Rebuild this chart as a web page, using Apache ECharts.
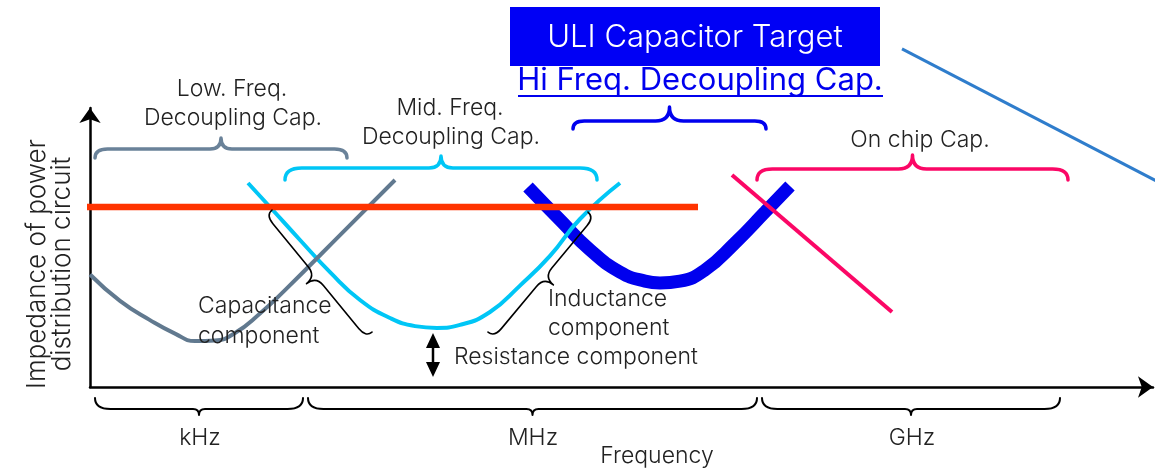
<!DOCTYPE html>
<html>
<head>
<meta charset="utf-8">
<script src="https://cdn.jsdelivr.net/npm/echarts@6/dist/echarts.min.js"></script>
<style>
  html, body { margin: 0; padding: 0; background: #fff; }
  #chart { width: 1162px; height: 474px; }
</style>
</head>
<body>
<div id="chart"></div>
<script>
// x: frequency (log scale, arbitrary units), y: impedance (arbitrary units)

// Impedance curves of each decoupling stage
const lowFreqCap = [[0, 37.5], [3, 28.7], [6, 22.3], [8.5, 17.8], [10.5, 15.3], [12.5, 15.5], [14.5, 18], [17, 24.5], [19.5, 32.3], [25.5, 52.3], [30.5, 69]];
const midFreqCap = [[15.8, 68], [18, 60], [21, 49], [24, 38.3], [27, 29], [30, 23], [32.5, 20.3], [34.7, 19.7], [37, 20.7], [40, 25], [43, 33.8], [46, 43.7], [49, 56], [53, 68]];
const hiFreqCap = [[43.8, 66.7], [47, 55.7], [50, 45.7], [53, 38.3], [55.5, 35.3], [57, 34.7], [59, 35.3], [61.5, 39], [64.5, 48], [67.5, 58.3], [70, 67]];
const onChipCap = [[64.2, 70.7], [80.2, 25]];
const targetImpedance = [[-0.3, 60], [60.8, 60]];
const uliTarget = [[81.2, 112.7], [107.2, 67.7]];

// Resistance component: from the bottom of the mid-frequency curve towards the axis
const resistanceSpan = [[34.3, 15.5], [34.3, 5.8]];

// Braces marking frequency ranges [x1, y1, x2, y2]; the tip points to the left of the x1,y1 -> x2,y2 direction
const lowFreqRange = [[0.5, 76.3, 25.7, 76.3]];
const midFreqRange = [[19.5, 69, 50.7, 69]];
const hiFreqRange = [[48.3, 86, 67.6, 86]];
const onChipRange = [[66.7, 69, 97.8, 69]];
const bandRanges = [[21.3, -3.7, 0.5, -3.7], [66.7, -3.7, 21.8, -3.7], [97, -3.7, 67.2, -3.7]];
const componentRanges = [[28.2, 18.3, 18.2, 59], [49.8, 58.3, 39.8, 18.3]];

const FONT = 'Inter, "Helvetica Neue", "Liberation Sans", sans-serif';
const TEXT_COLOR = '#222';

function bracePath(a, b, h1, h2) {
  const dx = b[0] - a[0], dy = b[1] - a[1];
  const L = Math.sqrt(dx * dx + dy * dy);
  const ux = dx / L, uy = dy / L;
  const vx = uy, vy = -ux;
  const P = (s, t) => (a[0] + ux * s + vx * t).toFixed(2) + ' ' + (a[1] + uy * s + vy * t).toFixed(2);
  const r = Math.min(h1 * 1.4, L / 4);
  const t = h2;
  const m = L / 2;
  return 'M' + P(0, 0) +
    ' Q' + P(0, h1) + ' ' + P(r, h1) +
    ' L' + P(m - t, h1) +
    ' Q' + P(m, h1) + ' ' + P(m, h1 + h2) +
    ' Q' + P(m, h1) + ' ' + P(m + t, h1) +
    ' L' + P(L - r, h1) +
    ' Q' + P(L, h1) + ' ' + P(L, 0);
}

function braceSeries(data, color, width, h1, h2) {
  return {
    type: 'custom',
    data: data,
    clip: false,
    silent: true,
    z: 4,
    encode: { x: [0, 2], y: [1, 3] },
    renderItem: function (params, api) {
      const a = api.coord([api.value(0), api.value(1)]);
      const b = api.coord([api.value(2), api.value(3)]);
      return {
        type: 'path',
        shape: { pathData: bracePath(a, b, h1, h2) },
        style: { fill: null, stroke: color, lineWidth: width, lineCap: 'round', lineJoin: 'round' }
      };
    }
  };
}

function curve(data, color, width, smooth) {
  return {
    type: 'line',
    data: data,
    showSymbol: false,
    clip: false,
    silent: true,
    smooth: smooth || false,
    lineStyle: { color: color, width: width, cap: 'butt' },
    emphasis: { disabled: true }
  };
}

function label(text, x, y, opts) {
  opts = opts || {};
  return {
    type: 'text',
    x: x, y: y,
    rotation: opts.rotation || 0,
    silent: true,
    z: 10,
    style: {
      text: text,
      fill: opts.color || TEXT_COLOR,
      font: (opts.weight || '300') + ' ' + (opts.size || 23) + 'px ' + FONT,
      align: opts.align || 'center',
      verticalAlign: 'middle',
      textAlign: opts.align || 'center',
      textVerticalAlign: 'middle',
      lineHeight: opts.lineHeight || 24
    }
  };
}

const chart = echarts.init(document.getElementById('chart'), null, { renderer: 'canvas' });

const axisCommon = {
  type: 'value',
  axisTick: { show: false },
  axisLabel: { show: false },
  splitLine: { show: false },
  axisLine: {
    show: true,
    symbol: ['none', 'arrow'],
    symbolSize: [16, 15],
    lineStyle: { color: '#000', width: 2.5 }
  }
};

chart.setOption({
  animation: false,
  backgroundColor: '#fff',
  grid: { left: 90, right: 9, top: 108, bottom: 87, outerBoundsMode: 'none' },
  xAxis: Object.assign({}, axisCommon, { min: 0, max: 106.3 }),
  yAxis: Object.assign({}, axisCommon, { min: 0, max: 93 }),
  series: [
    curve(hiFreqCap, '#0000ee', 13, 0.5),
    curve(midFreqCap, '#00c6f6', 4, 0.5),
    curve(lowFreqCap, '#61798f', 4, 0.5),
    curve(onChipCap, '#fb0766', 4),
    curve(targetImpedance, '#ff3300', 6.5),
    curve(uliTarget, '#2f7dcc', 3),
    braceSeries(lowFreqRange, '#6a8299', 3.5, 9, 11),
    braceSeries(midFreqRange, '#00c6f6', 3.5, 12, 12),
    braceSeries(hiFreqRange, '#0000ee', 3.5, 8, 14),
    braceSeries(onChipRange, '#fb0766', 3.5, 11, 14),
    braceSeries(bandRanges, '#000', 2, 11, 6),
    braceSeries(componentRanges, '#000', 1.6, 8, 12),
    {
      type: 'line',
      data: [
        { value: resistanceSpan[0], symbolRotate: 0 },
        { value: resistanceSpan[1], symbolRotate: 180 }
      ],
      symbol: 'triangle',
      symbolSize: [14, 15],
      showSymbol: true,
      clip: false,
      silent: true,
      z: 5,
      itemStyle: { color: '#000' },
      lineStyle: { color: '#000', width: 2.5 },
      emphasis: { disabled: true }
    }
  ],
  graphic: [
    {
      type: 'rect', silent: true, z: 9,
      shape: { x: 510, y: 7, width: 370, height: 59 },
      style: { fill: '#0000f5' }
    },
    label('ULI Capacitor Target', 695, 38, { color: '#fff', size: 31 }),
    label('Hi Freq. Decoupling Cap.', 700, 81, { color: '#0000ee', size: 31, weight: 'normal' }),
    {
      type: 'line', silent: true, z: 10,
      shape: { x1: 518, y1: 96, x2: 883, y2: 96 },
      style: { stroke: '#0000ee', lineWidth: 2 }
    },
    label('Low. Freq.', 232, 89),
    label('Decoupling Cap.', 233, 118),
    label('Mid. Freq.', 450, 108),
    label('Decoupling Cap.', 451, 137),
    label('On chip Cap.', 920, 140),
    label('Capacitance', 198, 306, { align: 'left' }),
    label('component', 198, 336, { align: 'left' }),
    label('Inductance', 548, 299, { align: 'left' }),
    label('component', 548, 328, { align: 'left' }),
    label('Resistance component', 454, 357, { align: 'left' }),
    label('kHz', 200, 438),
    label('MHz', 533, 438),
    label('GHz', 912, 438),
    label('Frequency', 657, 456),
    label('Impedance of power\ndistribution circuit', 50, 264, { rotation: Math.PI / 2, size: 26, lineHeight: 25 })
  ]
});
</script>
</body>
</html>
